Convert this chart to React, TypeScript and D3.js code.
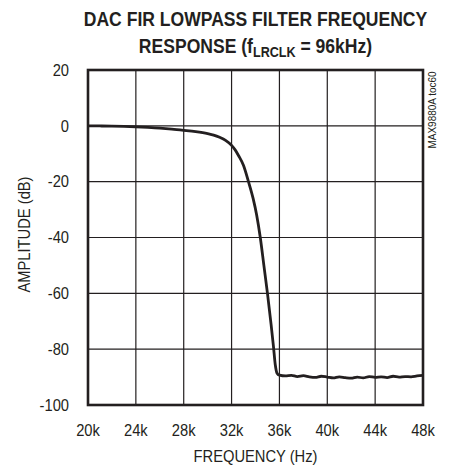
import React from "react";
import * as d3 from "d3";

const xTicks = [20, 24, 28, 32, 36, 40, 44, 48];
const xTickLabels = ["20k", "24k", "28k", "32k", "36k", "40k", "44k", "48k"];
const yTicks = [20, 0, -20, -40, -60, -80, -100];
const yTickLabels = ["20", "0", "-20", "-40", "-60", "-80", "-100"];

// frequency in kHz
const freqK = [
  20, 21, 22, 23, 24, 25, 26, 27, 28, 29, 30, 30.5, 31, 31.5, 32, 32.3, 32.6, 33,
  33.4, 33.8, 34.1, 34.4, 34.7, 35.0, 35.3, 35.5, 35.65, 35.8, 36, 36.5, 37, 37.5,
  38, 38.5, 39, 39.5, 40, 40.5, 41, 41.5, 42, 42.5, 43, 43.5, 44, 44.5, 45, 45.5,
  46, 46.5, 47, 47.5, 48,
];
// amplitude in dB
const ampDb = [
  0, -0.05, -0.1, -0.2, -0.35, -0.55, -0.8, -1.15, -1.6, -2.1, -2.8, -3.3, -4.1,
  -5.2, -7.0, -8.6, -10.8, -14.2, -19.8, -26, -32, -40, -50, -60, -71, -79, -85.5,
  -88.6, -89.3, -89.6, -89.4, -89.8, -89.5, -89.9, -90.1, -89.7, -90.0, -90.3,
  -89.9, -90.2, -90.4, -90.0, -90.3, -89.8, -90.1, -89.9, -90.2, -89.7, -90.0,
  -89.8, -89.9, -89.6, -89.4,
];

const INK = "#231f20";
const FONT = "'Liberation Sans', Arial, Helvetica, sans-serif";

function Label(props: {
  x: number;
  y: number;
  size: number;
  sx?: number;
  rotate?: number;
  anchor?: string;
  dy?: string;
  bold?: boolean;
  children: React.ReactNode;
}) {
  const { x, y, size, sx = 0.92, rotate = 0, anchor = "middle", dy, bold, children } = props;
  return (
    <text
      transform={`translate(${x},${y}) rotate(${rotate}) scale(${sx},1)`}
      textAnchor={anchor}
      dy={dy}
      fontSize={size}
      fontWeight={bold ? "bold" : "normal"}
      fill={INK}
    >
      {children}
    </text>
  );
}

export default function App() {
  const left = 88, right = 423, top = 70, bottom = 405;
  const x = d3.scaleLinear().domain([20, 48]).range([left, right]);
  const y = d3.scaleLinear().domain([-100, 20]).range([bottom, top]);
  const pts: [number, number][] = freqK.map((f, i) => [f, ampDb[i]]);
  const line = d3
    .line<[number, number]>()
    .x((d) => x(d[0]))
    .y((d) => y(d[1]))
    .curve(d3.curveMonotoneX);
  const cx = (left + right) / 2;
  const cy = (top + bottom) / 2;

  return (
    <svg
      width={449}
      height={468}
      style={{ position: "absolute", left: 0, top: 0, background: "#fff" }}
      fontFamily={FONT}
    >
      <rect x={0} y={0} width={449} height={468} fill="#fff" />
      {/* title */}
      <Label x={cx} y={26} size={19.5} sx={0.9} bold>
        DAC FIR LOWPASS FILTER FREQUENCY
      </Label>
      <Label x={cx} y={53} size={19.5} sx={0.9} bold>
        RESPONSE (f
        <tspan fontSize={14} dy={4}>LRCLK</tspan>
        <tspan dy={-4}> = 96kHz)</tspan>
      </Label>

      {/* grid */}
      {xTicks.slice(1, -1).map((t) => (
        <line key={"gx" + t} x1={x(t)} x2={x(t)} y1={top} y2={bottom} stroke={INK} strokeWidth={1.2} />
      ))}
      {yTicks.slice(1, -1).map((t) => (
        <line key={"gy" + t} x1={left} x2={right} y1={y(t)} y2={y(t)} stroke={INK} strokeWidth={1.2} />
      ))}

      {/* curve */}
      <path d={line(pts) || ""} fill="none" stroke={INK} strokeWidth={2.8} strokeLinejoin="round" />

      {/* frame */}
      <rect x={left} y={top} width={right - left} height={bottom - top} fill="none" stroke={INK} strokeWidth={2.6} />

      {/* y ticks */}
      {yTicks.map((t, i) => (
        <Label key={"yl" + t} x={69} y={y(t)} dy="0.36em" anchor="end" size={16}>
          {yTickLabels[i]}
        </Label>
      ))}
      {/* x ticks */}
      {xTicks.map((t, i) => (
        <Label key={"xl" + t} x={x(t)} y={436} size={16}>
          {xTickLabels[i]}
        </Label>
      ))}

      <Label x={cx} y={462} size={16}>
        FREQUENCY (Hz)
      </Label>
      <Label x={30} y={cy - 3} size={16} rotate={-90}>
        AMPLITUDE (dB)
      </Label>
      <Label x={436} y={110} size={10.5} rotate={-90} sx={0.95}>
        MAX9880A toc60
      </Label>
    </svg>
  );
}
